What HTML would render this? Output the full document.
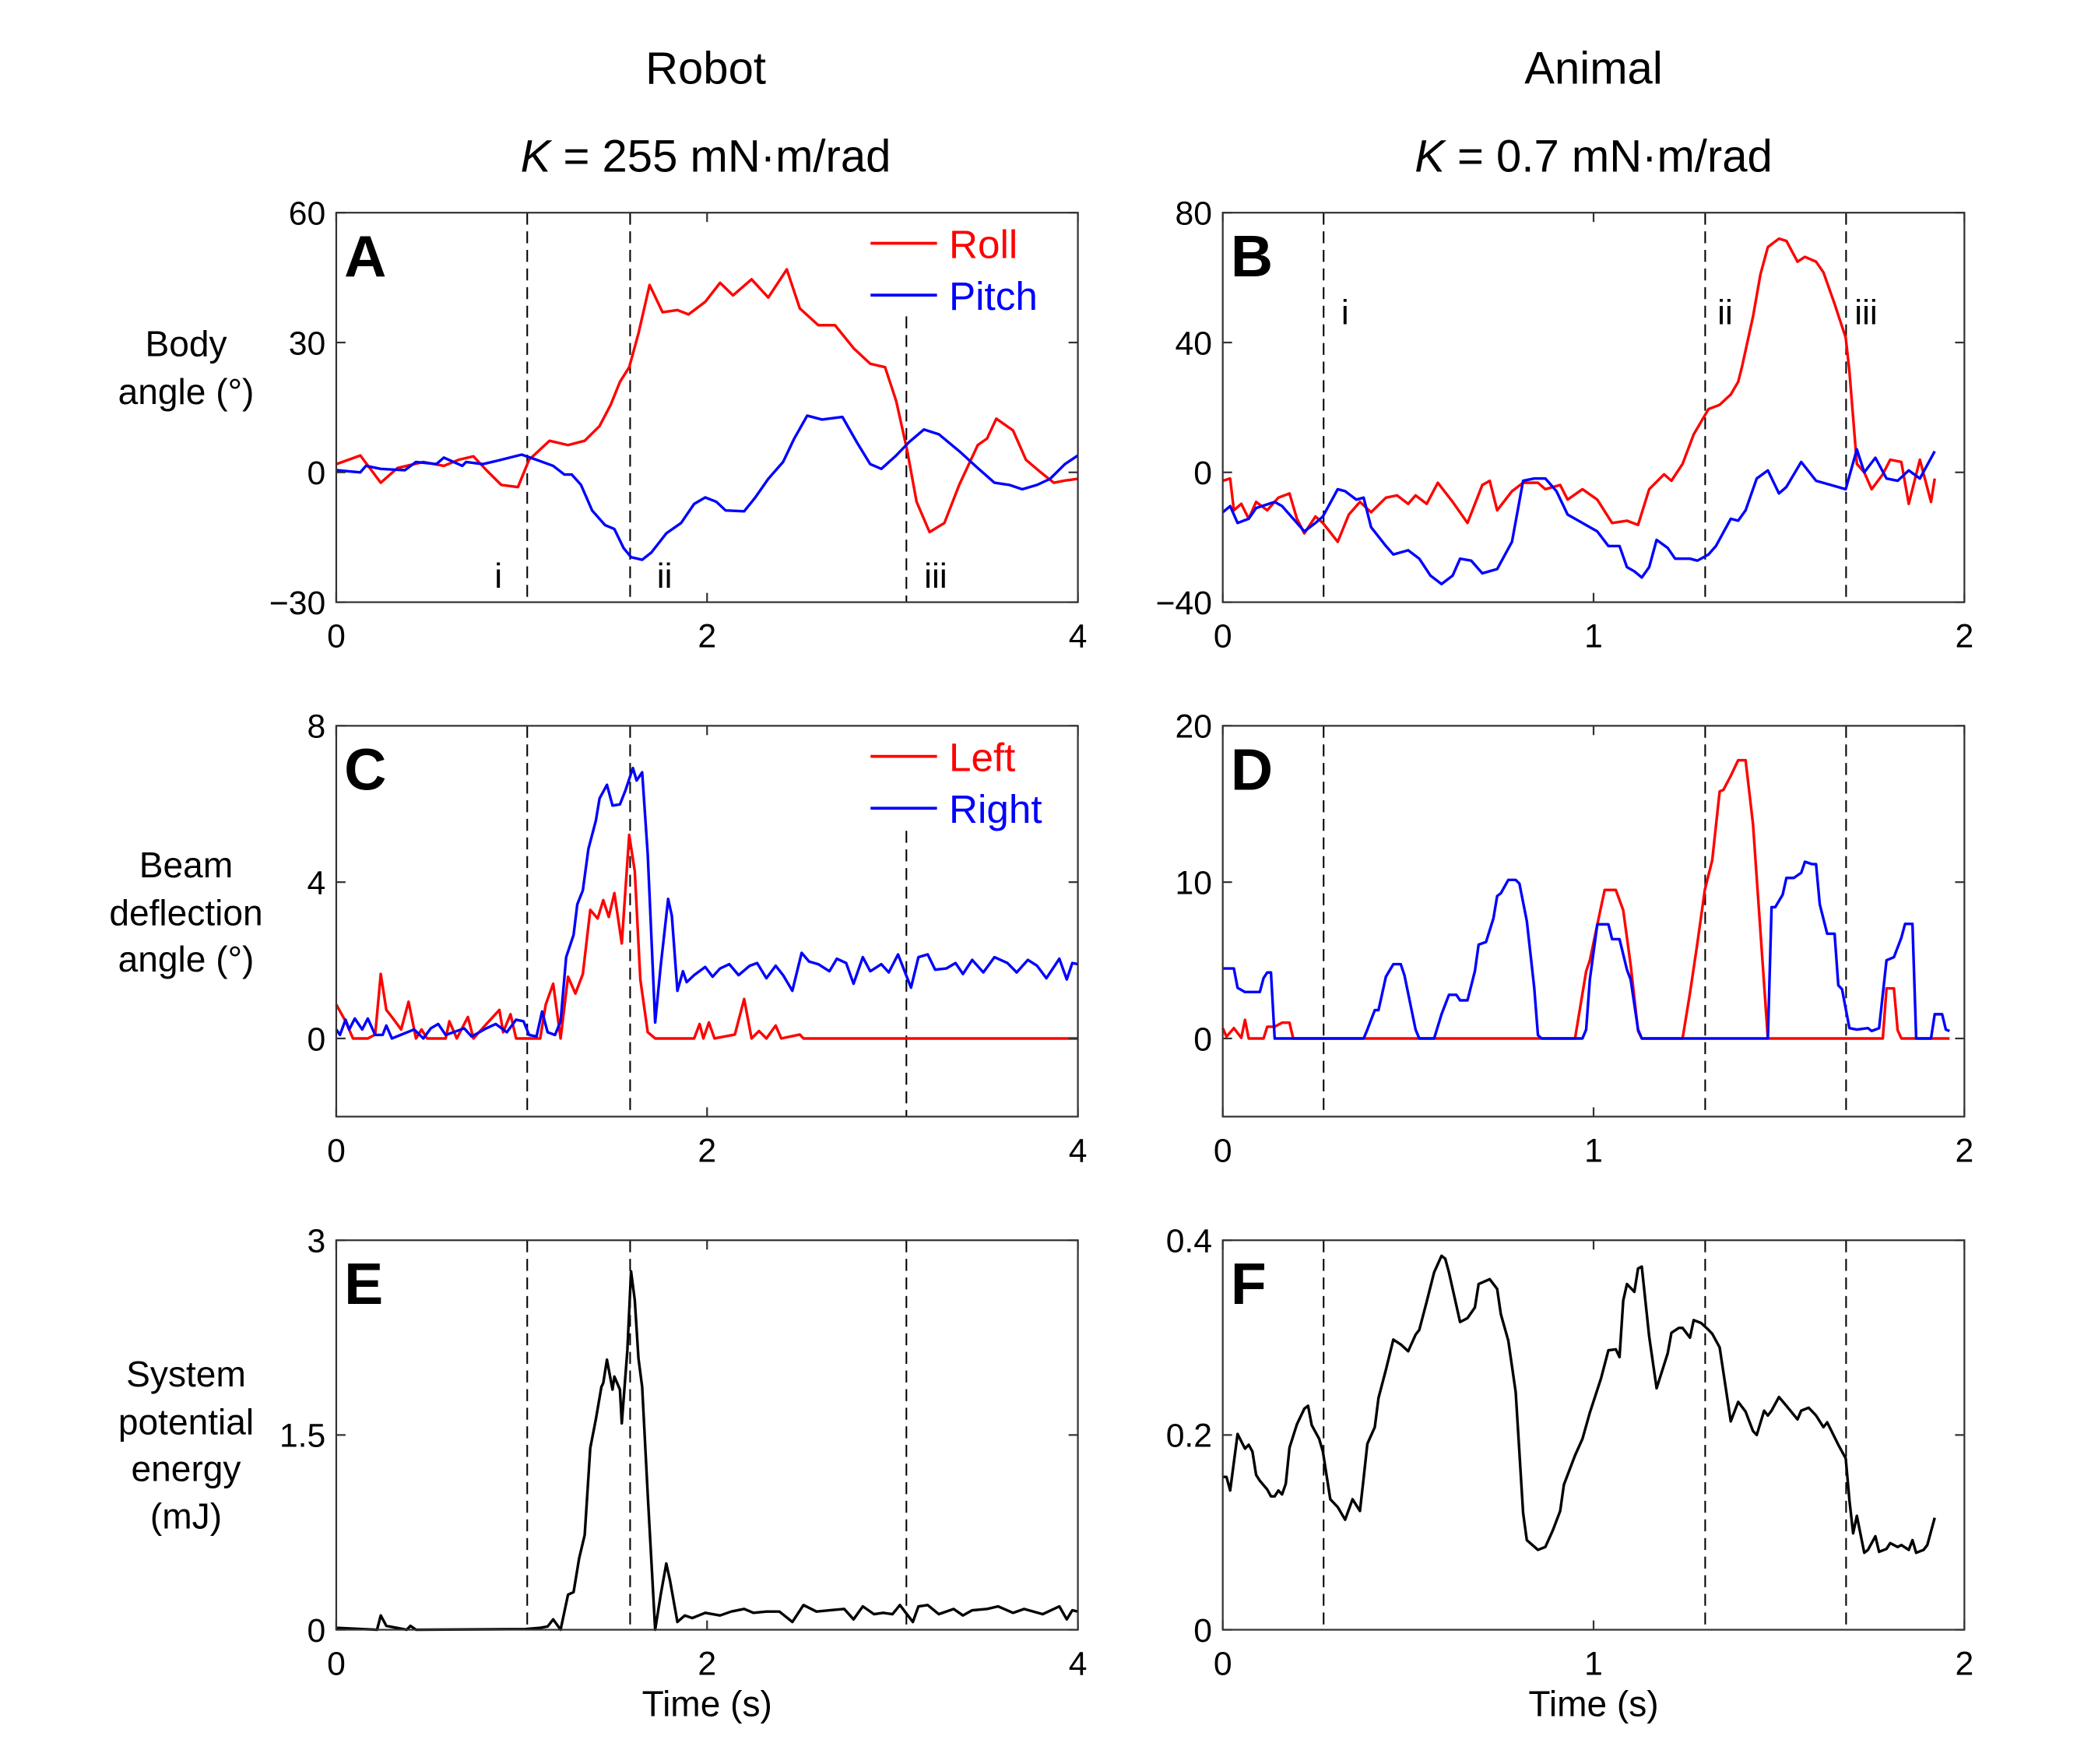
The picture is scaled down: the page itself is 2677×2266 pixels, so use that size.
<!DOCTYPE html>
<html><head><meta charset="utf-8">
<style>
html,body{margin:0;padding:0;background:#fff;}
svg{display:block;font-family:"Liberation Sans",Arial,sans-serif;}
</style></head>
<body>
<svg id="fig" xmlns="http://www.w3.org/2000/svg" width="2677" height="2266" viewBox="0 0 1568 1327" preserveAspectRatio="none">
<rect width="1568" height="1327" fill="#fff"/>
<g font-size="34" text-anchor="middle">
<text x="531" y="63">Robot</text>
<text x="531" y="129"><tspan font-style="italic">K</tspan> = 255 mN·m/rad</text>
<text x="1199" y="63">Animal</text>
<text x="1199" y="129"><tspan font-style="italic">K</tspan> = 0.7 mN·m/rad</text>
</g>
<g font-size="27" text-anchor="middle">
<text x="140" y="268">Body</text>
<text x="140" y="304">angle (°)</text>
<text x="140" y="660">Beam</text>
<text x="140" y="696">deflection</text>
<text x="140" y="731">angle (°)</text>
<text x="140" y="1043">System</text>
<text x="140" y="1079">potential</text>
<text x="140" y="1114">energy</text>
<text x="140" y="1150">(mJ)</text>
</g>
<text x="532" y="1291" font-size="27" text-anchor="middle">Time (s)</text>
<text x="1199" y="1291" font-size="27" text-anchor="middle">Time (s)</text>
<g id="plots"></g>
</svg>
<script>
// ---- Data (t, value) ----
const aRollT=[0,0.13,0.24,0.33,0.47,0.58,0.66,0.74,0.81,0.89,0.98,1.04,1.15,1.25,1.34,1.42,1.48,1.53,1.58,1.63,1.69,1.76,1.84,1.90,1.99,2.07,2.14,2.24,2.33,2.43,2.50,2.60,2.69,2.79,2.88,2.96,3.02,3.08,3.13,3.20,3.28,3.36,3.46,3.51,3.56,3.65,3.72,3.80,3.87,3.93,4.0];
const aRollV=[1.9,3.9,-2.4,1,2.4,1.5,2.9,3.7,0.5,-2.9,-3.4,2.9,7.3,6.3,7.3,10.7,15.6,20.9,24.3,32.1,43.3,37,37.5,36.5,39.4,43.8,40.9,44.6,40.4,46.9,37.9,34,34,28.7,25.1,24.3,16.5,4.9,-6.8,-13.8,-11.7,-2.9,6.3,7.8,12.4,9.7,2.9,0,-2.4,-1.9,-1.5];
const aPitchT=[0,0.13,0.16,0.24,0.37,0.43,0.54,0.58,0.68,0.70,0.79,0.87,1.00,1.08,1.17,1.23,1.27,1.32,1.38,1.45,1.50,1.55,1.59,1.65,1.70,1.78,1.86,1.93,1.99,2.05,2.10,2.20,2.26,2.33,2.41,2.47,2.54,2.62,2.73,2.81,2.88,2.94,3.02,3.09,3.17,3.25,3.36,3.46,3.55,3.63,3.70,3.78,3.85,3.93,4.0];
const aPitchV=[0.5,0,1.5,0.8,0.5,2.4,1.9,3.4,1.5,2.4,1.9,2.7,4.1,2.9,1.5,-0.5,-0.5,-2.9,-8.8,-12.2,-13.1,-17.5,-19.6,-20.2,-18.5,-14.1,-11.7,-7.3,-5.8,-6.8,-8.8,-9,-5.8,-1.5,2.4,7.8,13.1,12.2,12.8,6.8,1.9,0.8,3.9,7,9.9,8.8,4.9,1,-2.4,-2.9,-3.9,-2.9,-1.5,1.9,3.9];
const bRollT=[0,0.02,0.03,0.05,0.07,0.09,0.12,0.15,0.18,0.2,0.22,0.25,0.27,0.31,0.34,0.37,0.40,0.44,0.47,0.50,0.52,0.55,0.58,0.62,0.66,0.70,0.72,0.74,0.78,0.81,0.85,0.87,0.91,0.93,0.97,1.01,1.05,1.09,1.12,1.15,1.19,1.21,1.24,1.27,1.31,1.34,1.37,1.39,1.40,1.43,1.45,1.47,1.50,1.52,1.55,1.57,1.60,1.62,1.65,1.68,1.69,1.71,1.73,1.75,1.78,1.80,1.83,1.85,1.88,1.91,1.92];
const bRollV=[-2.6,-1.9,-11.7,-9.7,-14.3,-9.1,-11.7,-7.8,-6.5,-14.3,-18.8,-13.6,-15.6,-21.4,-13,-9.1,-12.3,-7.8,-7.1,-9.7,-7.1,-9.7,-3.2,-9.1,-15.6,-3.9,-2.6,-11.7,-5.8,-3.2,-3.2,-5.2,-3.9,-8.4,-5.2,-8.4,-15.6,-14.9,-16.2,-5.2,-0.6,-2.6,2.6,11.7,19.5,20.8,24,27.9,32.4,48,61,69.4,72,71.3,64.9,66.4,64.9,61.6,51.9,41.5,31.1,2.6,0,-5.2,-0.6,3.9,3.2,-9.7,3.9,-9.1,-1.9];
const bPitchT=[0,0.02,0.04,0.07,0.09,0.14,0.16,0.20,0.22,0.25,0.27,0.31,0.33,0.36,0.38,0.40,0.44,0.46,0.50,0.53,0.56,0.59,0.62,0.64,0.67,0.70,0.74,0.78,0.81,0.84,0.87,0.90,0.93,0.97,1.01,1.04,1.07,1.09,1.11,1.13,1.15,1.17,1.20,1.22,1.26,1.28,1.31,1.33,1.37,1.39,1.41,1.44,1.47,1.50,1.52,1.56,1.60,1.64,1.68,1.71,1.73,1.76,1.79,1.82,1.85,1.88,1.92];
const bPitchV=[-12.3,-10.4,-15.6,-14.3,-11,-9.1,-10.4,-15.6,-18.2,-15.6,-13.6,-5.2,-5.8,-8.4,-7.8,-16.9,-22.7,-25.3,-24,-26.6,-31.8,-34.4,-31.8,-26.6,-27.2,-31.1,-29.8,-21.4,-2.6,-1.9,-1.9,-5.8,-13,-15.6,-18.2,-22.7,-22.7,-29.2,-30.5,-32.4,-29.2,-20.8,-23.3,-26.6,-26.6,-27.2,-25.3,-22.7,-14.3,-14.9,-11.7,-1.9,0.6,-6.5,-4.5,3.2,-2.6,-3.9,-5.2,7.1,0,4.5,-1.9,-2.6,0.6,-1.9,6.5];
const cLeftT=[0,0.05,0.09,0.17,0.21,0.24,0.27,0.30,0.35,0.39,0.43,0.46,0.49,0.59,0.61,0.65,0.71,0.74,0.81,0.88,0.90,0.94,0.97,1.1,1.13,1.17,1.21,1.25,1.29,1.33,1.37,1.41,1.44,1.47,1.5,1.54,1.58,1.61,1.64,1.68,1.72,1.93,1.96,1.98,2.01,2.04,2.15,2.2,2.24,2.28,2.32,2.37,2.4,2.5,2.52,4];
const cLeftV=[0.87,0.44,0,0,0.1,1.65,0.73,0.55,0.23,0.94,0,0.23,0,0,0.44,0,0.55,0,0.37,0.73,0.16,0.62,0,0,0.87,1.4,0,1.58,1.15,1.65,3.29,3.07,3.54,3.11,3.72,2.43,5.21,4.28,1.51,0.16,0,0,0.37,0,0.41,0,0.1,1.01,0,0.19,0,0.33,0,0.1,0,0];
const cRightT=[0,0.02,0.05,0.07,0.1,0.14,0.17,0.21,0.25,0.27,0.3,0.42,0.47,0.51,0.55,0.59,0.65,0.69,0.73,0.81,0.86,0.92,0.97,1.01,1.04,1.08,1.11,1.14,1.18,1.21,1.24,1.28,1.3,1.33,1.36,1.4,1.42,1.46,1.49,1.53,1.56,1.6,1.62,1.65,1.68,1.72,1.75,1.79,1.81,1.84,1.87,1.89,1.93,1.99,2.03,2.07,2.12,2.17,2.23,2.27,2.32,2.37,2.41,2.46,2.51,2.55,2.6,2.66,2.7,2.75,2.79,2.84,2.88,2.94,2.98,3.03,3.1,3.14,3.19,3.23,3.29,3.34,3.38,3.43,3.49,3.55,3.62,3.67,3.73,3.78,3.83,3.9,3.94,3.97,4];
const cRightV=[0.23,0.09,0.48,0.23,0.51,0.23,0.51,0.09,0.09,0.33,0,0.23,0,0.26,0.37,0.09,0.19,0.26,0.05,0.26,0.37,0.16,0.48,0.44,0.09,0.05,0.69,0.16,0.09,0.44,2.08,2.65,3.43,3.79,4.85,5.57,6.14,6.49,5.96,5.99,6.35,6.92,6.6,6.81,4.71,0.41,1.86,3.57,3.14,1.22,1.72,1.44,1.62,1.83,1.58,1.79,1.9,1.62,1.86,1.93,1.54,1.86,1.62,1.22,2.19,1.97,1.9,1.72,2.04,1.93,1.4,2.08,1.72,1.9,1.69,2.15,1.3,2.08,2.15,1.76,1.79,1.93,1.65,2.01,1.69,2.08,1.93,1.69,2.01,1.86,1.54,2.04,1.51,1.93,1.9];
const dLeftT=[0,0.01,0.03,0.05,0.06,0.07,0.11,0.12,0.14,0.16,0.18,0.19,0.95,0.98,0.99,1.02,1.03,1.06,1.08,1.1,1.12,1.13,1.24,1.26,1.28,1.30,1.32,1.34,1.35,1.37,1.39,1.41,1.43,1.47,1.78,1.79,1.81,1.82,1.83,1.96];
const dLeftV=[0.66,0.12,0.66,0.04,1.19,0,0,0.75,0.75,1.01,1.01,0,0,4.3,5.0,8.4,9.5,9.5,8.2,4.7,0.48,0,0,2.9,6.1,9.5,11.4,15.8,15.9,16.8,17.8,17.8,13.7,0,0,3.2,3.2,0.53,0,0];
const dRightT=[0,0.03,0.04,0.06,0.1,0.11,0.12,0.13,0.14,0.38,0.39,0.41,0.42,0.44,0.46,0.48,0.49,0.52,0.53,0.57,0.59,0.61,0.63,0.64,0.66,0.68,0.69,0.71,0.73,0.74,0.75,0.77,0.79,0.8,0.82,0.84,0.85,0.86,0.97,0.98,0.99,1.01,1.04,1.05,1.07,1.09,1.1,1.12,1.13,1.47,1.48,1.49,1.51,1.52,1.54,1.56,1.57,1.59,1.6,1.61,1.63,1.65,1.66,1.67,1.69,1.71,1.74,1.75,1.77,1.79,1.81,1.83,1.84,1.86,1.87,1.91,1.92,1.94,1.95,1.96];
const dRightV=[4.48,4.48,3.24,2.97,2.97,3.86,4.22,4.22,0,0,0.57,1.81,1.81,3.95,4.75,4.75,4.04,0.57,0,0,1.55,2.79,2.79,2.44,2.44,4.31,6.0,6.17,7.69,9.11,9.29,10.14,10.14,9.91,7.51,3.24,0.21,0,0,0.57,3.77,7.3,7.3,6.35,6.35,4.4,3.77,0.57,0,0,8.4,8.4,9.2,10.27,10.27,10.6,11.3,11.15,11.15,8.58,6.7,6.7,3.4,3.15,0.66,0.57,0.66,0.48,0.66,5.0,5.2,6.44,7.33,7.33,0,0,1.55,1.55,0.57,0.48];
const eT=[0,0.22,0.24,0.27,0.38,0.4,0.43,1.02,1.1,1.14,1.17,1.21,1.25,1.28,1.31,1.34,1.37,1.4,1.43,1.44,1.46,1.49,1.5,1.53,1.54,1.57,1.59,1.61,1.63,1.65,1.68,1.72,1.75,1.78,1.8,1.84,1.88,1.92,1.99,2.07,2.13,2.2,2.25,2.32,2.39,2.46,2.52,2.59,2.66,2.74,2.79,2.84,2.9,2.95,3.0,3.04,3.11,3.14,3.19,3.25,3.33,3.38,3.43,3.51,3.57,3.65,3.71,3.81,3.9,3.94,3.97,4];
const eV=[0.015,0,0.11,0.03,0,0.03,0,0.005,0.015,0.025,0.08,0,0.27,0.29,0.55,0.73,1.4,1.62,1.87,1.9,2.08,1.85,1.95,1.85,1.59,2.15,2.76,2.54,2.09,1.87,1.04,0,0.27,0.51,0.38,0.06,0.11,0.09,0.13,0.11,0.14,0.16,0.13,0.14,0.14,0.06,0.19,0.14,0.15,0.16,0.08,0.18,0.12,0.13,0.12,0.19,0.06,0.18,0.19,0.12,0.16,0.11,0.15,0.16,0.18,0.13,0.16,0.12,0.18,0.08,0.15,0.14];
const fT=[0,0.01,0.02,0.04,0.06,0.07,0.08,0.09,0.1,0.12,0.13,0.14,0.15,0.16,0.17,0.18,0.2,0.22,0.23,0.24,0.26,0.27,0.29,0.31,0.33,0.35,0.37,0.38,0.39,0.41,0.42,0.44,0.46,0.48,0.5,0.52,0.53,0.55,0.57,0.59,0.6,0.61,0.64,0.66,0.68,0.69,0.72,0.74,0.75,0.77,0.79,0.81,0.82,0.85,0.87,0.89,0.91,0.92,0.95,0.97,0.99,1.02,1.04,1.06,1.07,1.08,1.09,1.11,1.12,1.13,1.15,1.17,1.2,1.21,1.23,1.24,1.26,1.27,1.29,1.31,1.32,1.34,1.37,1.39,1.41,1.43,1.44,1.46,1.47,1.48,1.5,1.52,1.55,1.56,1.58,1.6,1.62,1.63,1.66,1.68,1.69,1.7,1.71,1.73,1.74,1.76,1.77,1.79,1.8,1.82,1.83,1.85,1.86,1.87,1.89,1.9,1.92];
const fV=[0.157,0.157,0.143,0.201,0.186,0.19,0.183,0.159,0.153,0.144,0.137,0.137,0.143,0.139,0.15,0.187,0.211,0.227,0.23,0.21,0.196,0.183,0.134,0.126,0.113,0.134,0.122,0.156,0.191,0.208,0.238,0.267,0.298,0.293,0.286,0.303,0.308,0.337,0.367,0.384,0.381,0.367,0.316,0.32,0.331,0.355,0.36,0.35,0.324,0.297,0.244,0.12,0.092,0.082,0.085,0.102,0.122,0.149,0.179,0.196,0.223,0.258,0.287,0.288,0.28,0.338,0.355,0.347,0.371,0.373,0.301,0.248,0.284,0.305,0.31,0.31,0.3,0.318,0.315,0.308,0.304,0.29,0.214,0.234,0.224,0.204,0.2,0.225,0.22,0.225,0.239,0.23,0.216,0.225,0.228,0.22,0.208,0.213,0.19,0.176,0.133,0.099,0.117,0.079,0.082,0.096,0.08,0.083,0.089,0.085,0.087,0.082,0.092,0.079,0.082,0.087,0.115];
const robotEvents=[1.03,1.585,3.075];
const animalEvents=[0.272,1.301,1.681];
const aTicksY=[-30,0,30,60], bTicksY=[-40,0,40,80], cTicksY=[0,4,8], dTicksY=[0,10,20], eTicksY=[0,1.5,3], fTicksY=[0,0.2,0.4];
const robotTicksX=[0,2,4], animalTicksX=[0,1,2];

const NS="http://www.w3.org/2000/svg";
const root=document.getElementById('plots');
function mk(tag,attrs,parent){const e=document.createElementNS(NS,tag);for(const k in attrs)e.setAttribute(k,attrs[k]);(parent||root).appendChild(e);return e;}
function panel(cfg){
  const g=mk('g',{});
  
  
  const sx=t=>cfg.x0+(t-cfg.xmin)/(cfg.xmax-cfg.xmin)*(cfg.x1-cfg.x0);
  const sy=v=>cfg.y1-(v-cfg.ymin)/(cfg.ymax-cfg.ymin)*(cfg.y1-cfg.y0);
  cfg.events.forEach((t,i)=>{
    const l=mk('line',{x1:sx(t),x2:sx(t),y1:(cfg.eventTop&&cfg.eventTop[i])||cfg.y0,y2:cfg.y1,stroke:'#000','stroke-width':1.2,'stroke-dasharray':'9,5'},g);
    
    
  });
  cfg.series.forEach(s=>{
    let d='';s.t.forEach((t,i)=>{d+=(i?'L':'M')+sx(t).toFixed(2)+','+sy(s.v[i]).toFixed(2);});
    const p=mk('path',{d:d,fill:'none',stroke:s.color,'stroke-width':2,'stroke-linejoin':'round'},g);
    
    
  });
  const fr=mk('rect',{x:cfg.x0,y:cfg.y0,width:cfg.x1-cfg.x0,height:cfg.y1-cfg.y0,fill:'none',stroke:'#333','stroke-width':1.3},g);
  
  
  cfg.ticksY.forEach(v=>{
    const y=sy(v);
    mk('line',{x1:cfg.x0,x2:cfg.x0+7,y1:y,y2:y,stroke:'#333','stroke-width':1.3},g);
    mk('line',{x1:cfg.x1,x2:cfg.x1-7,y1:y,y2:y,stroke:'#333','stroke-width':1.3},g);
    const tx=mk('text',{x:cfg.x0-8,y:y+9,'font-size':25,'text-anchor':'end'},g);
    tx.textContent=(v<0?'\u2212'+(-v):String(v));
    
    
  });
  cfg.ticksX.forEach(t=>{
    const x=sx(t);
    mk('line',{x1:x,x2:x,y1:cfg.y1,y2:cfg.y1-7,stroke:'#333','stroke-width':1.3},g);
    mk('line',{x1:x,x2:x,y1:cfg.y0,y2:cfg.y0+7,stroke:'#333','stroke-width':1.3},g);
    const tx=mk('text',{x:x,y:cfg.y1+34,'font-size':25,'text-anchor':'middle'},g);
    tx.textContent=String(t);
    
    
  });
  const L=mk('text',{x:cfg.x0+6,y:cfg.y0+48,'font-size':44,'font-weight':'bold'},g);
  L.textContent=cfg.letter;
  
  
  (cfg.romans||[]).forEach(r=>{
    const tx=mk('text',{x:r[1],y:r[2],'font-size':26,'text-anchor':'middle'},g);
    tx.textContent=r[0];
    
    
  });
  (cfg.legend||[]).forEach((l,i)=>{
    const y=cfg.y0+23+i*39;
    const ln=mk('line',{x1:cfg.x1-156,x2:cfg.x1-106,y1:y,y2:y,stroke:l[1],'stroke-width':2.2},g);
    
    
    const tx=mk('text',{x:cfg.x1-97,y:y+11,'font-size':30,fill:l[1]},g);
    tx.textContent=l[0];
    
    
  });
}
const RED='#ff0000',BLUE='#0000ff';
panel({name:'panel-a',letter:'A',x0:253,x1:811,y0:160,y1:453,xmin:0,xmax:4,ymin:-30,ymax:60,ticksY:aTicksY,ticksX:robotTicksX,events:robotEvents,eventTop:[160,160,238],
  series:[{name:'roll-line',t:aRollT,v:aRollV,color:RED},{name:'pitch-line',t:aPitchT,v:aPitchV,color:BLUE}],
  romans:[['i',375,442],['ii',500,442],['iii',704,442]],legend:[['Roll',RED],['Pitch',BLUE]]});
panel({name:'panel-b',letter:'B',x0:920,x1:1478,y0:160,y1:453,xmin:0,xmax:2,ymin:-40,ymax:80,ticksY:bTicksY,ticksX:animalTicksX,events:animalEvents,
  series:[{name:'roll-line',t:bRollT,v:bRollV,color:RED},{name:'pitch-line',t:bPitchT,v:bPitchV,color:BLUE}],
  romans:[['i',1012,244],['ii',1298,244],['iii',1404,244]]});
panel({name:'panel-c',letter:'C',x0:253,x1:811,y0:546,y1:840,xmin:0,xmax:4,ymin:-2,ymax:8,ticksY:cTicksY,ticksX:robotTicksX,events:robotEvents,eventTop:[546,546,625],
  series:[{name:'left-line',t:cLeftT,v:cLeftV,color:RED},{name:'right-line',t:cRightT,v:cRightV,color:BLUE}],
  legend:[['Left',RED],['Right',BLUE]]});
panel({name:'panel-d',letter:'D',x0:920,x1:1478,y0:546,y1:840,xmin:0,xmax:2,ymin:-5,ymax:20,ticksY:dTicksY,ticksX:animalTicksX,events:animalEvents,
  series:[{name:'left-line',t:dLeftT,v:dLeftV,color:RED},{name:'right-line',t:dRightT,v:dRightV,color:BLUE}]});
panel({name:'panel-e',letter:'E',x0:253,x1:811,y0:933,y1:1226,xmin:0,xmax:4,ymin:0,ymax:3,ticksY:eTicksY,ticksX:robotTicksX,events:robotEvents,
  series:[{name:'energy-line',t:eT,v:eV,color:'#000'}]});
panel({name:'panel-f',letter:'F',x0:920,x1:1478,y0:933,y1:1226,xmin:0,xmax:2,ymin:0,ymax:0.4,ticksY:fTicksY,ticksX:animalTicksX,events:animalEvents,
  series:[{name:'energy-line',t:fT,v:fV,color:'#000'}]});
</script>
</body></html>
